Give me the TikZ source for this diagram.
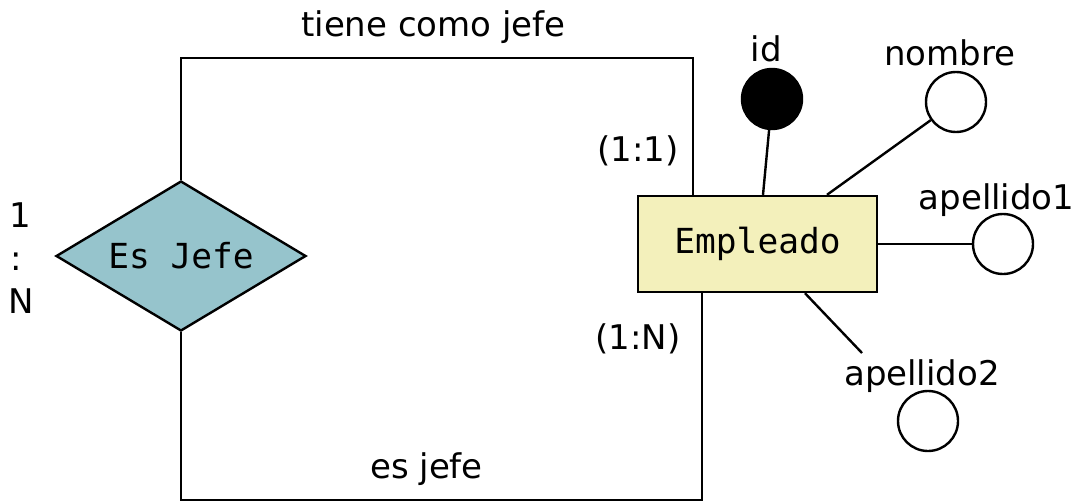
\documentclass[tikz,border=0pt]{standalone}
\usepackage{fontspec}
\setmainfont{DejaVu Sans}
\setmonofont{DejaVu Sans Mono}
\usetikzlibrary{shapes.geometric}
\definecolor{relfill}{HTML}{96C4CC}
\definecolor{entfill}{HTML}{F3F0BB}
\tikzset{
  conn/.style={line width=2.4pt},
  lbl/.style={font=\fontsize{34}{40}\selectfont, inner sep=0pt, anchor=base},
  attr/.style={circle, draw, line width=2.4pt, minimum size=60pt, inner sep=0pt},
  entity/.style={draw, line width=2.4pt, fill=entfill, minimum width=239pt, minimum height=96pt, inner sep=0pt, font=\ttfamily\fontsize{34.5}{40}\selectfont},
  relation/.style={diamond, draw, line width=2.4pt, fill=relfill, minimum width=250pt, minimum height=150pt, inner sep=0pt, aspect=1.667, font=\ttfamily\fontsize{34.5}{40}\selectfont},
}
\begin{document}
\begin{tikzpicture}[x=1pt,y=-1pt]
\useasboundingbox (0,0) rectangle (1079,503);
\node[relation] (rel) at (181,256) {Es Jefe};
\node[entity] (emp) at (757.5,244) {Empleado};
\node[attr, fill=black] (id) at (772,99) {};
\node[attr] (nombre) at (956,102) {};
\node[attr] (ap1) at (1003,244) {};
\node[attr] (ap2) at (928,421) {};
\node[lbl] (lid) at (766.5,62) {id};
\node[lbl] (lnombre) at (950,66) {nombre};
\node[lbl] (lap1) at (996.5,209) {apellido1};
\node[lbl] (lap2) at (922,385) {apellido2};
\node[lbl] (l11) at (638,161) {(1:1)};
\node[lbl] (l1n) at (638,349) {(1:N)};
\node[lbl] (ltiene) at (433.5,37) {tiene como jefe};
\node[lbl] (les) at (426.5,478) {es jefe};
\node[lbl] (c1) at (20,227) {1};
\node[lbl] (c2) at (16,270) {:};
\node[lbl] (c3) at (21,313) {N};
\coordinate (e2) at (862,353);
\draw[conn] (rel.north) -- (181,58) -- (693,58) -- (emp.north -| 693,0);
\draw[conn] (rel.south) -- (181,500) -- (702,500) -- (emp.south -| 702,0);
\draw[conn] (emp.north -| 763,0) -- (id);
\draw[conn] (emp.north -| 827,0) -- (nombre);
\draw[conn] (emp.east) -- (ap1);
\draw[conn] (emp.south -| 805,0) -- (e2);
\end{tikzpicture}
\end{document}
